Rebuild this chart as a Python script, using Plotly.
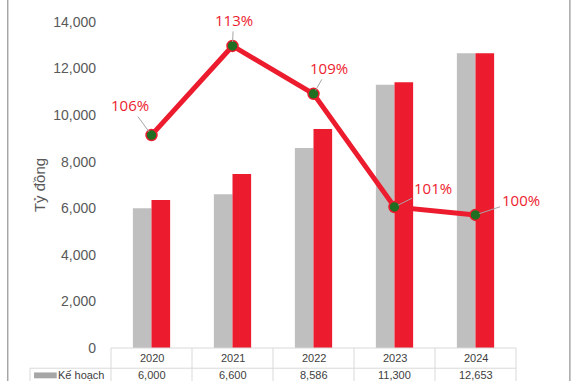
import plotly.graph_objects as go

years = ["2020", "2021", "2022", "2023", "2024"]
ke_hoach = [6000, 6600, 8586, 11300, 12653]
thuc_hien = [6360, 7470, 9400, 11413, 12653]
ty_le = [106.0, 112.7, 109.1, 100.6, 100.0]
ty_le_labels = ["106%", "113%", "109%", "101%", "100%"]
label_offsets = [(-22, -30), (1, -26), (15, -26), (38, -19), (45, -15)]
y_ticks = [0, 2000, 4000, 6000, 8000, 10000, 12000, 14000]

GRAY = "#bfbfbf"
RED = "#ec1c2e"
TXT = "#595959"
BORDER = "#d9d9d9"

fig = go.Figure()
fig.add_bar(x=years, y=ke_hoach, name="Kế hoạch", marker_color=GRAY, marker_line_width=0)
fig.add_bar(x=years, y=thuc_hien, name="Thực hiện", marker_color=RED, marker_line_width=0)
fig.add_scatter(x=years, y=ty_le, yaxis="y2", mode="lines+markers",
                line=dict(color=RED, width=5),
                marker=dict(color="#1f6e22", size=11, line=dict(color=RED, width=1.5)),
                name="Tỷ lệ")

ann = []
for i, (v, lab) in enumerate(zip(ty_le, ty_le_labels)):
    ax, ay = label_offsets[i]
    ann.append(dict(x=i, y=v, xref="x", yref="y2", text=lab, showarrow=True,
                    arrowhead=0, arrowwidth=1, arrowcolor="#a6a6a6", ax=ax, ay=ay,
                    standoff=4, font=dict(color=RED, size=15, family="Open Sans")))

# data table below axis
for i, (yr, kh) in enumerate(zip(years, ke_hoach)):
    ann.append(dict(x=i, y=-0.031, xref="x", yref="paper", text=yr, showarrow=False,
                    font=dict(size=11, color="#404040", family="Liberation Sans"), yanchor="middle"))
    ann.append(dict(x=i, y=-0.084, xref="x", yref="paper", text=f"{kh:,}", showarrow=False,
                    font=dict(size=11, color="#404040", family="Liberation Sans"), yanchor="middle"))
ann.append(dict(x=-0.012, y=-0.084, xref="paper", yref="paper", text="Kế hoạch", showarrow=False,
                xanchor="right", font=dict(size=11, color="#404040", family="Liberation Sans"),
                yanchor="middle"))

shapes = []
shapes.append(dict(type="line", xref="paper", yref="paper", x0=0, x1=1, y0=0, y1=0,
                   line=dict(color=BORDER, width=1)))
shapes.append(dict(type="line", xref="paper", yref="paper", x0=-0.2, x1=1, y0=-0.062, y1=-0.062,
                   line=dict(color=BORDER, width=1)))
shapes.append(dict(type="line", xref="paper", yref="paper", x0=-0.2, x1=-0.2, y0=-0.062, y1=-0.2,
                   line=dict(color=BORDER, width=1)))
for k in range(len(years) + 1):
    xp = k / len(years)
    shapes.append(dict(type="line", xref="paper", yref="paper", x0=xp, x1=xp, y0=0, y1=-0.2,
                       line=dict(color=BORDER, width=1)))
shapes.append(dict(type="rect", xref="paper", yref="paper", x0=-0.19, x1=-0.134,
                   y0=-0.075, y1=-0.093, fillcolor="#a6a6a6", line_width=0))
shapes.append(dict(type="line", xref="paper", yref="paper", x0=-0.255, x1=-0.255, y0=-0.2, y1=1.2,
                   line=dict(color="#a6a6a6", width=1.5)))
shapes.append(dict(type="line", xref="paper", yref="paper", x0=1.133, x1=1.133, y0=-0.2, y1=1.2,
                   line=dict(color="#a6a6a6", width=1.5)))

fig.update_layout(
    width=575, height=381,
    margin=dict(l=111, r=59, t=22, b=33),
    paper_bgcolor="white", plot_bgcolor="white",
    barmode="group", bargap=0.54, bargroupgap=0,
    showlegend=False,
    xaxis=dict(type="category", range=[-0.5, len(years) - 0.5], showticklabels=False,
               showgrid=False, zeroline=False, ticks=""),
    yaxis=dict(range=[0, 14000], tickvals=y_ticks, tickformat=",", showgrid=False,
               zeroline=False, ticks="", ticklabelstandoff=14,
               tickfont=dict(size=14, color=TXT, family="Liberation Sans"),
               title=dict(text="Tỷ đồng", standoff=3,
                          font=dict(size=15, color=TXT, family="Liberation Sans"))),
    yaxis2=dict(range=[90, 114.5], overlaying="y", side="right", visible=False),
    annotations=ann, shapes=shapes,
)

fig.write_html("out.html", config={"displayModeBar": False},
               post_script="document.body.style.margin='0';document.body.style.overflow='hidden';")
